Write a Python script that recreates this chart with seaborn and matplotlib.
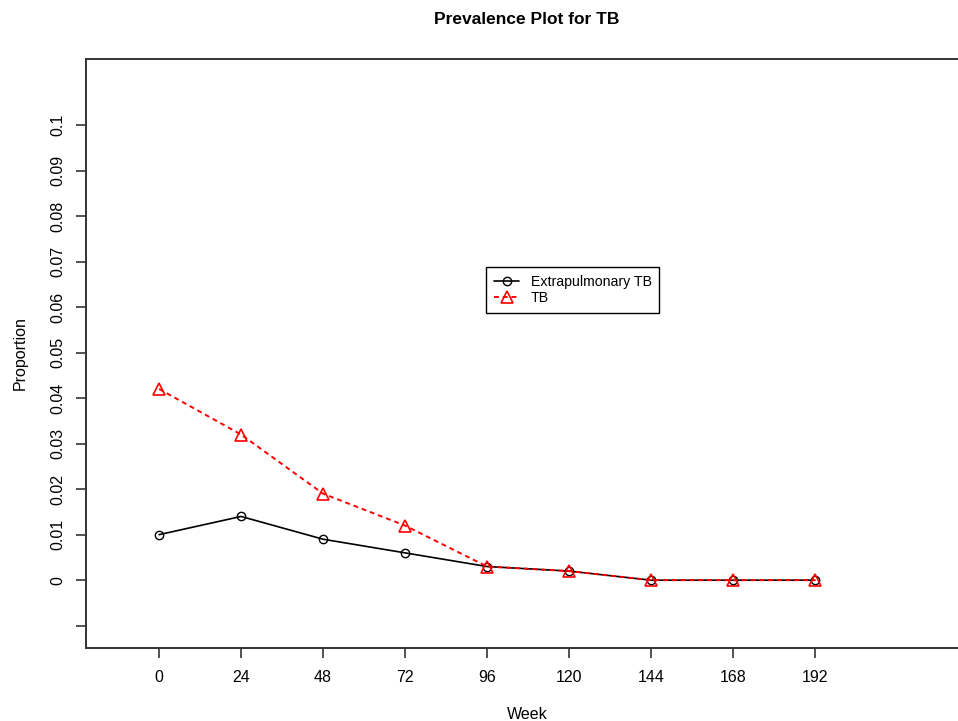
import matplotlib
matplotlib.use('Agg')
import matplotlib.pyplot as plt
import seaborn as sns
import numpy as np
import pandas as pd

# 数据
weeks = [0, 24, 48, 72, 96, 120, 144, 168, 192]
extrapulmonary = [0.010, 0.014, 0.009, 0.006, 0.003, 0.002, 0.0, 0.0, 0.0]
tb = [0.042, 0.032, 0.019, 0.012, 0.003, 0.002, 0.0, 0.0, 0.0]
yticks = [-0.01, 0, 0.01, 0.02, 0.03, 0.04, 0.05, 0.06, 0.07, 0.08, 0.09, 0.1]
yticklabels = ['', '0', '0.01', '0.02', '0.03', '0.04', '0.05', '0.06', '0.07', '0.08', '0.09', '0.1']

sns.set_style('white')
plt.rcParams['font.family'] = ['Liberation Sans', 'DejaVu Sans']
plt.rcParams['text.color'] = 'black'
plt.rcParams['axes.labelcolor'] = 'black'
plt.rcParams['xtick.color'] = 'black'
plt.rcParams['ytick.color'] = 'black'

fig = plt.figure(figsize=(9.58, 7.21), dpi=100)
# 坐标区：右边界超出画布
ax = fig.add_axes([86/958, 1-648/721, (968-86)/958, (648-59)/721])

frame = pd.DataFrame({'week': weeks, 'ext': extrapulmonary, 'tb': tb})
sns.lineplot(data=frame, x='week', y='ext', ax=ax, color='black', linewidth=1.2,
             marker='o', markersize=6, markerfacecolor='none', markeredgecolor='black',
             markeredgewidth=1.0, label='Extrapulmonary TB')
sns.lineplot(data=frame, x='week', y='tb', ax=ax, color='red', linewidth=1.4,
             linestyle=(0, (2.5, 2)), marker='^', markersize=8.5, markerfacecolor='none',
             markeredgecolor='red', markeredgewidth=1.2, label='TB')

ax.set_xlim(-21.4, 236.8)
ax.set_ylim(-0.0149, 0.1145)
ax.set_xticks(weeks)
ax.set_xticklabels([str(w) for w in weeks], fontsize=11.5)
ax.set_yticks(yticks)
ax.set_yticklabels(yticklabels, fontsize=11.5, rotation=90, va='center')
ax.tick_params(axis='both', direction='out', length=7, width=1.2, color='#333333',
               bottom=True, left=True)
ax.tick_params(axis='x', pad=9)
ax.tick_params(axis='y', pad=8)
for side in ['left', 'bottom', 'top', 'right']:
    ax.spines[side].set_linewidth(1.4)
    ax.spines[side].set_color('#333333')

ax.set_xlabel('Week', fontsize=11.5, labelpad=16)
ax.set_ylabel('Proportion', fontsize=11.5, labelpad=16)
fig.text(527/958, 1-20/721, 'Prevalence Plot for TB', ha='center', va='center',
         fontsize=12.5, fontweight='bold')

leg = ax.legend(loc='upper left', bbox_to_anchor=(486/958, 1-267/721),
                bbox_transform=fig.transFigure, fontsize=10.2, fancybox=False,
                framealpha=1, edgecolor='black', borderpad=0.55, handlelength=1.8,
                labelspacing=0.15, borderaxespad=0, handletextpad=0.8)
leg.get_frame().set_linewidth(1.0)

plt.savefig('out.png', dpi=100)
